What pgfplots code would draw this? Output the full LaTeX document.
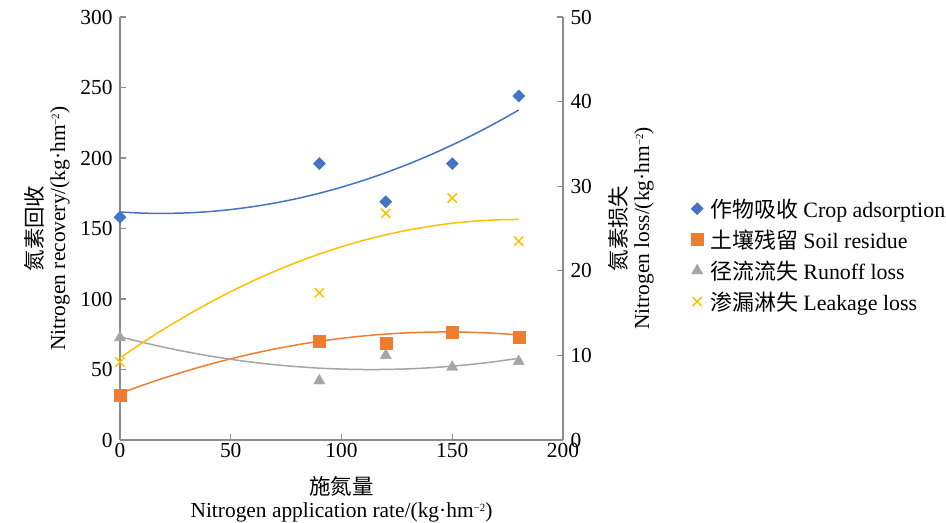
\documentclass[border=0pt]{standalone}
\usepackage{pgfplots}
\pgfplotsset{compat=1.18}
\usepackage{fontspec}
\setmainfont{Liberation Serif}
\newfontfamily\cjk{Noto Sans CJK SC}
\definecolor{cropc}{HTML}{4472C4}
\definecolor{soilc}{HTML}{ED7D31}
\definecolor{runc}{HTML}{A5A5A5}
\definecolor{leakc}{HTML}{FFC000}
\definecolor{axc}{HTML}{8C8C8C}
\newcommand\unitkg{(kg·hm\raisebox{0.6ex}{\fontsize{11}{11}\selectfont −2})}
\begin{document}
\begin{tikzpicture}
\useasboundingbox (-120bp,-83bp) rectangle (826bp,440bp);
\pgfplotsset{
  base/.style={scale only axis, width=443bp, height=423bp, at={(0,0)}, anchor=south west,
    xmin=0, xmax=200, tick align=inside, major tick length=6bp,
    axis line style={axc, line width=1.2bp},
    every tick/.style={axc, line width=1.2bp},
    tick label style={font=\fontsize{21.5}{25}\selectfont, black},
    /pgf/number format/assume math mode=true,
    label style={font=\fontsize{21.5}{23}\selectfont},
    clip=false,
  }
}
\begin{axis}[base, ymin=0, ymax=300, ytick={0,50,...,300}, xtick={0,50,...,200},
  axis x line*=bottom, axis y line*=left,
  yticklabel style={xshift=-4bp},
  xlabel={{\cjk 施氮量}\\Nitrogen application rate/\unitkg},
  xlabel style={align=center, at={(axis description cs:0.5,0)}, anchor=north, yshift=-36bp, inner sep=0pt},
  ylabel={{\cjk 氮素回收}\\Nitrogen recovery/\unitkg},
  ylabel style={align=center, at={(axis description cs:-0.113,0.5)}, rotate=0, anchor=south, inner sep=0pt},
]
\addplot[cropc, line width=1.5bp, smooth, no marks] coordinates {
(0,161.7) (10,160.92) (20,160.71) (30,161.06) (40,161.97) (50,163.45) (60,165.49) (70,168.10)
(80,171.27) (90,175.00) (100,179.30) (110,184.16) (120,189.59) (130,195.58) (140,202.13)
(150,209.25) (160,216.93) (170,225.18) (180,233.99)};
\addplot[soilc, line width=1.5bp, smooth, no marks] coordinates {
(0,33.0) (10,38.72) (20,44.03) (30,48.95) (40,53.46) (50,57.57) (60,61.28) (70,64.59)
(80,67.50) (90,70.00) (100,72.11) (110,73.81) (120,75.12) (130,76.02) (140,76.52)
(150,76.62) (160,76.32) (170,75.62) (180,74.51)};
\addplot[only marks, mark=square*, mark size=4.3bp, mark options={rotate=45}, color=cropc] coordinates {
(0,158) (90,196) (120,169) (150,196) (180,244)};
\addplot[only marks, mark=square*, mark size=6bp, color=soilc] coordinates {
(0,31.5) (90,70) (120,69) (150,76.5) (180,73)};
\end{axis}
\begin{axis}[base, ymin=0, ymax=50, ytick={0,10,...,50},
  axis x line=none, axis y line*=right,
  yticklabel style={xshift=4bp},
  ylabel={{\cjk 氮素损失}\\Nitrogen loss/\unitkg},
  ylabel style={align=center, at={(axis description cs:1.1016,0.5)}, rotate=0, anchor=north, inner sep=0pt},
  legend style={draw=none, fill=none, at={(axis description cs:1.282,0.437)}, anchor=west,
    font=\fontsize{22}{24}\selectfont, row sep=7bp, column sep=5bp},
  legend cell align=left,
  legend image code/.code={\draw[#1] plot coordinates {(0bp,0bp)};},
]
\addlegendimage{only marks, mark=square*, mark size=4.3bp, mark options={rotate=45}, color=cropc}
\addlegendimage{only marks, mark=square*, mark size=6bp, color=soilc}
\addlegendimage{only marks, mark=triangle*, mark size=6.5bp, color=runc}
\addlegendimage{only marks, mark=x, mark size=6.5bp, line width=1.5bp, color=leakc}
\addplot[runc, line width=1.5bp, smooth, no marks, forget plot] coordinates {
(0,12.2) (10,11.548) (20,10.956) (30,10.424) (40,9.952) (50,9.541) (60,9.189) (70,8.897)
(80,8.666) (90,8.494) (100,8.383) (110,8.332) (120,8.340) (130,8.409) (140,8.538)
(150,8.727) (160,8.976) (170,9.285) (180,9.654)};
\addplot[leakc, line width=1.5bp, smooth, no marks, forget plot] coordinates {
(0,9.7) (10,11.47) (20,13.14) (30,14.70) (40,16.17) (50,17.54) (60,18.80) (70,19.96)
(80,21.02) (90,21.98) (100,22.84) (110,23.60) (120,24.25) (130,24.81) (140,25.26)
(150,25.62) (160,25.87) (170,26.02) (180,26.07)};
\addplot[only marks, mark=triangle*, mark size=6.5bp, color=runc, forget plot] coordinates {
(0,12.1) (90,7.0) (120,10.0) (150,8.6) (180,9.3)};
\addplot[only marks, mark=x, mark size=6.5bp, line width=1.5bp, color=leakc, forget plot] coordinates {
(0,9.2) (90,17.4) (120,26.8) (150,28.6) (180,23.5)};
\legend{{\cjk 作物吸收} Crop adsorption, {\cjk 土壤残留} Soil residue, {\cjk 径流流失} Runoff loss, {\cjk 渗漏淋失} Leakage loss}
\end{axis}
\end{tikzpicture}
\end{document}
